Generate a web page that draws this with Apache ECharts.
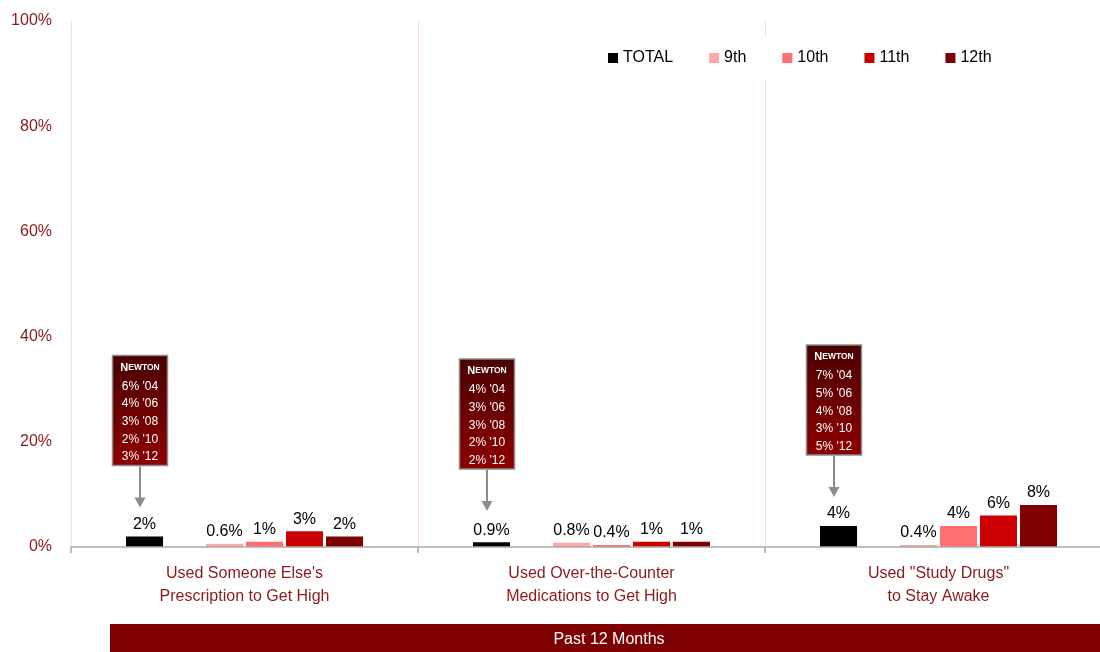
<!DOCTYPE html>
<html>
<head>
<meta charset="utf-8">
<script src="https://cdn.jsdelivr.net/npm/echarts@6/dist/echarts.min.js"></script>
<style>
  html, body { margin: 0; padding: 0; background: #fff; }
  #chart { width: 1100px; height: 652px; }
</style>
</head>
<body>
<div id="chart"></div>
<script>
// Past-12-month prescription / OTC / study-drug use, by grade
const categories = [
  "Used Someone Else's\nPrescription to Get High",
  "Used Over-the-Counter\nMedications to Get High",
  "Used \"Study Drugs\"\nto Stay Awake"
];
const totalValues = [2, 0.9, 4];
const grade9Values = [0.6, 0.8, 0.4];
const grade10Values = [1, 0.4, 4];
const grade11Values = [3, 1, 6];
const grade12Values = [2, 1, 8];
const yTicks = [0, 20, 40, 60, 80, 100];

// Newton trend values shown in the call-out boxes, one row per category
const trendYears = ["'04", "'06", "'08", "'10", "'12"];
const newtonTrend = [
  [6, 4, 3, 2, 3],
  [4, 3, 3, 2, 2],
  [7, 5, 4, 3, 5]
];
const bannerText = 'Past 12 Months';

const FONT = '"Liberation Sans", Arial, sans-serif';
const DARK_RED = '#8B1A1A';

function fmtPct(v) {
  return (v < 1 ? v.toFixed(1) : String(Math.round(v))) + '%';
}

function barSeries(name, data, color) {
  return {
    name: name,
    type: 'bar',
    data: data,
    barGap: '8%',
    barCategoryGap: '31.7%',
    itemStyle: { color: color },
    label: {
      show: data.length > 0,
      position: 'top',
      distance: 4,
      color: '#000',
      fontFamily: FONT,
      fontSize: 16,
      formatter: p => fmtPct(p.value)
    }
  };
}

const chart = echarts.init(document.getElementById('chart'), null, { renderer: 'canvas' });

const option = {
  animation: false,
  backgroundColor: '#fff',
  // plot area runs a little past the right edge of the canvas
  grid: {
    left: 71, top: 21, width: 1041, bottom: 105,
    containLabel: false,
    outerBoundsMode: 'none'
  },
  legend: {
    data: ['TOTAL', '9th', '10th', '11th', '12th'],
    left: 598,
    top: 37,
    padding: [13, 10, 13, 10],
    backgroundColor: '#fff',
    icon: 'rect',
    itemWidth: 10,
    itemHeight: 10,
    itemGap: 36,
    textStyle: { fontFamily: FONT, fontSize: 16, color: '#000' }
  },
  xAxis: {
    type: 'category',
    data: categories,
    axisLine: { show: true, lineStyle: { color: '#ABABAB', width: 1.5 } },
    axisTick: { show: true, length: 6, lineStyle: { color: '#ABABAB', width: 1.5 } },
    splitLine: { show: true, lineStyle: { color: '#FDD9D9', width: 1 } },
    axisLabel: {
      color: DARK_RED,
      fontFamily: FONT,
      fontSize: 16,
      lineHeight: 23,
      margin: 15,
      interval: 0
    },
    z: 3
  },
  yAxis: {
    type: 'value',
    min: 0,
    max: 100,
    interval: 20,
    axisLine: { show: false },
    axisTick: { show: false },
    splitLine: { show: false },
    axisLabel: {
      color: DARK_RED,
      fontFamily: FONT,
      fontSize: 16,
      margin: 19,
      formatter: v => (yTicks.indexOf(v) >= 0 ? v + '%' : '')
    }
  },
  series: [
    barSeries('TOTAL', totalValues, '#000000'),
    barSeries('', [], 'transparent'),
    barSeries('9th', grade9Values, '#FFA6A6'),
    barSeries('10th', grade10Values, '#FF6F6F'),
    barSeries('11th', grade11Values, '#CC0000'),
    barSeries('12th', grade12Values, '#7F0000')
  ]
};

chart.setOption(option);

// Call-out boxes with the Newton trend, pointing at each TOTAL bar
function buildCallouts() {
  const data = chart.getModel().getSeriesByIndex(0).getData();
  const elements = [];
  const boxW = 55, boxH = 110, arrowLen = 42;
  newtonTrend.forEach((row, i) => {
    const lay = data.getItemLayout(i);
    const cx = Math.round(lay.x + lay.width / 2) - 5;
    const barTop = Math.min(lay.y, lay.y + lay.height);
    const tip = Math.min(barTop - 29, 511);
    const boxBottom = tip - arrowLen;
    const boxTop = boxBottom - boxH;
    const lines = row.map((v, k) => v + '% ' + trendYears[k]);
    elements.push({
      type: 'group',
      children: [
        {
          type: 'rect',
          shape: { x: cx - boxW / 2, y: boxTop, width: boxW, height: boxH },
          style: {
            fill: new echarts.graphic.LinearGradient(0, 0, 0, 1, [
              { offset: 0, color: '#4A0000' },
              { offset: 1, color: '#8E0000' }
            ]),
            stroke: '#8C8C8C',
            lineWidth: 1.5
          }
        },
        {
          type: 'text',
          x: cx,
          y: boxTop + 12,
          style: {
            text: '{a|N}{b|EWTON}',
            align: 'center',
            verticalAlign: 'middle',
            fill: '#fff',
            rich: {
              a: { fontFamily: FONT, fontSize: 11, fontWeight: 'bold', fill: '#fff' },
              b: { fontFamily: FONT, fontSize: 8.5, fontWeight: 'bold', fill: '#fff' }
            }
          }
        },
        {
          type: 'text',
          x: cx,
          y: boxTop + 22,
          style: {
            text: lines.join('\n'),
            align: 'center',
            verticalAlign: 'top',
            fill: '#fff',
            fontFamily: FONT,
            fontSize: 12,
            lineHeight: 17.7
          }
        },
        {
          type: 'line',
          shape: { x1: cx, y1: boxBottom + 1, x2: cx, y2: tip - 8 },
          style: { stroke: '#8C8C8C', lineWidth: 2 }
        },
        {
          type: 'polygon',
          shape: { points: [[cx - 5.5, tip - 10], [cx + 5.5, tip - 10], [cx, tip]] },
          style: { fill: '#8C8C8C' }
        }
      ]
    });
  });

  // banner under the category labels
  elements.push({
    type: 'group',
    children: [
      {
        type: 'rect',
        shape: { x: 110, y: 624, width: 999, height: 30 },
        style: { fill: '#7F0000' }
      },
      {
        type: 'text',
        x: 609,
        y: 640,
        style: {
          text: bannerText,
          align: 'center',
          verticalAlign: 'middle',
          fill: '#fff',
          fontFamily: FONT,
          fontSize: 16
        }
      }
    ]
  });

  chart.setOption({ graphic: elements });
}

buildCallouts();
</script>
</body>
</html>
